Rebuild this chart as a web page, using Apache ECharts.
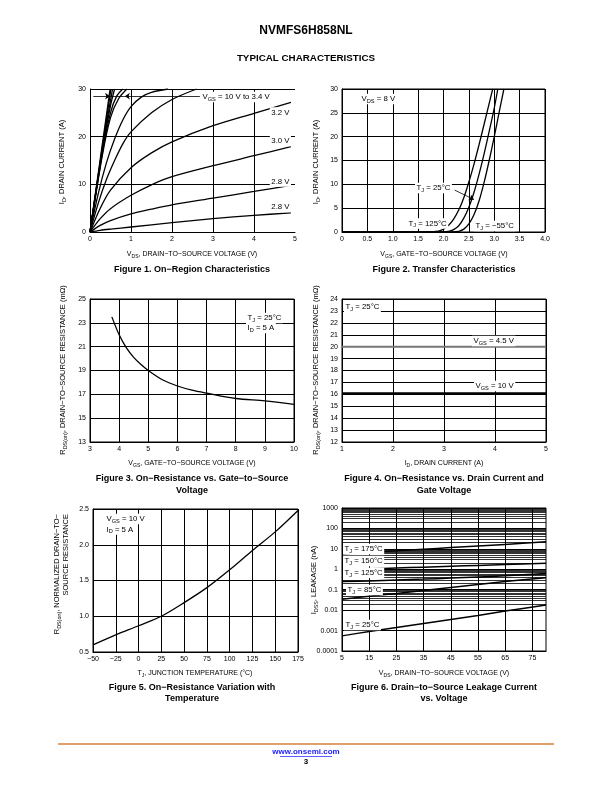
<!DOCTYPE html>
<html><head><meta charset="utf-8">
<script src="https://cdn.jsdelivr.net/npm/echarts@6/dist/echarts.min.js"></script>
<style>html,body{margin:0;padding:0;background:#fff}#c{width:612px;height:792px}</style>
</head><body><div id="c"></div>
<script>
// ---------- Figure 1: On-Region Characteristics (VDS, ID) ----------
const fig1_vgs10 = [[0,0],[0.49,30]];
const fig1_vgs6  = [[0,0],[0.51,30]];
const fig1_vgs45 = [[0,0],[0.3,17.5],[0.55,30]];
const fig1_vgs40 = [[0,0],[0.3,17],[0.5,26.5],[0.6,30]];
const fig1_vgs38 = [[0,0],[0.3,16.5],[0.5,25],[0.65,28.5],[0.8,30]];
const fig1_vgs36 = [[0,0],[0.3,16],[0.5,24],[0.7,28],[0.9,30]];
const fig1_vgs35 = [[0,0],[0.2,8],[0.4,14.5],[0.6,19.5],[0.8,23.5],[1,26.3],[1.25,28.3],[1.5,29.3],[1.9,30]];
const fig1_vgs34 = [[0,0],[0.2,6],[0.4,11],[0.6,15],[0.8,18.5],[1,21],[1.5,25],[2,27.8],[2.6,30]];
const fig1_vgs32 = [[0,0],[0.25,5],[0.5,8.8],[1,13.5],[1.5,16.6],[2,18.9],[3,22.3],[4,24.9],[4.9,27.2]];
const fig1_vgs30 = [[0,0],[0.25,2.8],[0.5,4.9],[1,7.7],[1.5,9.9],[2,11.6],[3,13.9],[4,16],[4.9,17.9]];
const fig1_vgs28a = [[0,0],[0.25,1.4],[0.5,2.4],[1,3.8],[1.5,4.8],[2,5.7],[3,7.1],[4,8.5],[4.9,9.8]];
const fig1_vgs28b = [[0,0],[0.25,0.35],[0.5,0.6],[1,1.05],[2,1.97],[3,2.8],[4,3.5],[4.9,4.0]];
const fig1_xLabels = [0,1,2,3,4,5];

// ---------- Figure 2: Transfer Characteristics (VGS, ID) ----------
const fig2_tj125 = [[0,0],[1.6,0],[1.9,0.2],[2.0,0.6],[2.1,1.4],[2.2,2.7],[2.3,4.6],[2.4,7.2],[2.5,10.5],[2.6,14.2],[2.7,18.3],[2.8,22.6],[2.9,27],[2.97,30]];
const fig2_tj25  = [[0,0],[1.8,0],[2.1,0.15],[2.2,0.5],[2.3,1.3],[2.4,2.9],[2.5,5.2],[2.6,8.3],[2.7,12.1],[2.8,16.4],[2.9,21.1],[3.0,26],[3.07,30]];
const fig2_tjm55 = [[0,0],[2.0,0],[2.3,0.15],[2.4,0.6],[2.5,1.7],[2.6,3.6],[2.7,6.5],[2.8,10.4],[2.9,15],[3.0,20],[3.1,25.3],[3.19,30]];

// ---------- Figure 3: RDS(on) vs VGS ----------
const fig3_vgs = [3.75,4,4.25,4.5,4.75,5,5.5,6,6.5,7,8,9,10];
const fig3_rds = [23.5,22,20.9,20.1,19.5,19,18.2,17.7,17.35,17.1,16.65,16.45,16.15];
const fig3_yLabels = [13,15,17,19,21,23,25];

// ---------- Figure 4: RDS(on) vs ID ----------
const fig4_id = [1,2,3,4,5];
const fig4_rds45 = [20.0,20.0,20.0,20.0,20.0];
const fig4_rds10 = [16.1,16.1,16.1,16.1,16.1];

// ---------- Figure 5: Normalized RDS(on) vs TJ ----------
const fig5_tj  = [-50,-25,0,25,50,75,100,125,150,175];
const fig5_rds = [0.6,0.74,0.867,1.0,1.19,1.40,1.65,1.92,2.18,2.48];

// ---------- Figure 6: IDSS leakage vs VDS ----------
const fig6_vds = [5,15,25,35,45,55,65,80];
const fig6_tj175 = [5.8,6.8,8,9.6,11.5,13.8,16.5,22];
const fig6_tj150 = [0.95,1.05,1.15,1.27,1.4,1.55,1.7,1.95];
const fig6_tj125 = [0.25,0.27,0.3,0.33,0.37,0.42,0.48,0.62];
const fig6_tj85  = [0.034,0.048,0.066,0.092,0.13,0.18,0.25,0.39];
const fig6_tj25  = [0.00055,0.0009,0.0014,0.0022,0.0035,0.0055,0.009,0.018];
const fig6_xLabels = [5,15,25,35,45,55,65,75];

// ---------- helpers ----------
const FONT = 'Liberation Sans';
const AN = 7.8;   // annotation font size
const XT = 7;     // x-axis title size
const YT = 7.5;   // y-axis title size
const CAP = 9;    // caption size
const minorLog = [];
for (let d = -4; d <= 2; d++) for (let k = 2; k <= 9; k++) minorLog.push(+(k * Math.pow(10, d)).toPrecision(2));

function grid(l, t, w, h, border) {
  return {left:l, top:t, width:w, height:h, show:border, borderColor:'#000', borderWidth:1, containLabel:false};
}
function axis(gi, o) {
  return Object.assign({
    gridIndex: gi, type: 'value',
    axisLine: {show:true, onZero:false, lineStyle:{color:'#000', width:1}},
    axisTick: {show:false},
    splitLine: {show:true, lineStyle:{color:'#000', width:1}},
    axisLabel: {fontSize:7, color:'#000', fontFamily:FONT, margin:4},
  }, o);
}
function curve(gi, data, o = {}) {
  return {type:'line', xAxisIndex:gi, yAxisIndex:gi, data, symbol:'none', showSymbol:false,
    smooth: o.smooth === undefined ? 0.3 : o.smooth, silent:true, z:3,
    lineStyle:{color:o.color || '#000', width:o.width || 1.3}};
}
function rich(size) {
  return { sub: {fontSize: size * 0.72, fontFamily: FONT, verticalAlign: 'bottom', lineHeight: size * 1.35, fill: '#000'} };
}
function txt(x, y, text, o = {}) {
  const size = o.size || AN;
  return {type:'text', x, y, rotation:o.rot || 0, z:100, silent:true,
    style:{text, fill:o.color || '#000', fontSize:size, fontFamily:FONT, fontWeight:o.bold ? 'bold' : 'normal',
      align:o.align || 'center', verticalAlign:'middle', lineHeight:size * 1.35,
      backgroundColor:o.bg ? '#fff' : null, padding:o.bg ? [0,1.5,0,1.5] : 0, rich:rich(size)}};
}
const R = Math.PI / 2;

const option = {
  animation: false,
  backgroundColor: '#fff',
  grid: [
    grid(90, 89, 205, 143, false),
    grid(342, 89, 203, 143, true),
    grid(90, 299, 204, 143, true),
    grid(342, 299, 204, 143, true),
    grid(93, 509, 205, 143, true),
    grid(342, 508, 204, 143, true)
  ],
  xAxis: [
    axis(0, {min:0, max:5, axisLabel:{fontSize:7, color:'#000', fontFamily:FONT, margin:4, customValues:fig1_xLabels}, axisTick:{show:false, customValues:[0,1,2,3,4]}}),
    axis(1, {min:0, max:4, interval:0.5, axisLabel:{fontSize:7, color:'#000', fontFamily:FONT, margin:4, formatter:v => v === 0 ? '0' : v.toFixed(1)}}),
    axis(2, {min:3, max:10, interval:1}),
    axis(3, {min:1, max:5, interval:1}),
    axis(4, {min:-50, max:175, interval:25, axisLabel:{fontSize:7, color:'#000', fontFamily:FONT, margin:4, formatter:v => String(v).replace('-', '\u2212')}}),
    axis(5, {min:5, max:80, axisLabel:{fontSize:7, color:'#000', fontFamily:FONT, margin:4, customValues:fig6_xLabels}, axisTick:{show:false, customValues:fig6_xLabels}})
  ],
  yAxis: [
    axis(0, {min:0, max:30, interval:10}),
    axis(1, {min:0, max:30, interval:5}),
    axis(2, {min:13, max:25, axisLabel:{fontSize:7, color:'#000', fontFamily:FONT, margin:4, customValues:fig3_yLabels}, axisTick:{show:false, customValues:fig3_yLabels}}),
    axis(3, {min:12, max:24, interval:1}),
    axis(4, {min:0.5, max:2.5, interval:0.5, axisLabel:{fontSize:7, color:'#000', fontFamily:FONT, margin:4, formatter:v => v.toFixed(1)}}),
    axis(5, {type:'log', logBase:10, min:0.0001, max:1000, splitNumber:7, axisLabel:{fontSize:7, color:'#000', fontFamily:FONT, margin:4, formatter:v => String(+(+v).toPrecision(1))}})
  ],
  series: [
    // fig 1
    curve(0, fig1_vgs10, {smooth:false}), curve(0, fig1_vgs6, {smooth:false}),
    curve(0, fig1_vgs45), curve(0, fig1_vgs40), curve(0, fig1_vgs38), curve(0, fig1_vgs36),
    curve(0, fig1_vgs35), curve(0, fig1_vgs34), curve(0, fig1_vgs32), curve(0, fig1_vgs30),
    curve(0, fig1_vgs28a), curve(0, fig1_vgs28b),
    {type:'line', xAxisIndex:0, yAxisIndex:0, data:[], silent:true, z:4,
      markLine:{silent:true, symbol:['none','arrow'], symbolSize:5, label:{show:false},
        lineStyle:{color:'#000', width:0.8, type:'solid'},
        data:[
          [{coord:[0.08,28.5]},{coord:[0.49,28.5]}],
          [{coord:[2.68,28.5]},{coord:[0.85,28.5]}],
          [{coord:[0.49,28.5], symbol:'none'},{coord:[0.85,28.5], symbol:'none'}]
        ]}},
    // fig 2
    curve(1, fig2_tj125), curve(1, fig2_tj25), curve(1, fig2_tjm55),
    {type:'line', xAxisIndex:1, yAxisIndex:1, data:[], silent:true, z:4,
      markLine:{silent:true, symbol:['none','arrow'], symbolSize:5, label:{show:false},
        lineStyle:{color:'#000', width:0.8, type:'solid'},
        data:[[{coord:[2.22,8.8]},{coord:[2.6,6.8]}]]}},
    // fig 3
    curve(2, fig3_vgs.map((v, i) => [v, fig3_rds[i]])),
    // fig 4
    curve(3, fig4_id.map((v, i) => [v, fig4_rds45[i]]), {color:'#777', width:2, smooth:false}),
    curve(3, fig4_id.map((v, i) => [v, fig4_rds10[i]]), {width:1.6, smooth:false}),
    // fig 5
    curve(4, fig5_tj.map((v, i) => [v, fig5_rds[i]])),
    // fig 6 minor log grid
    {type:'line', xAxisIndex:5, yAxisIndex:5, data:fig6_vds.map((v, i) => [v, fig6_tj25[i]]), silent:true, z:1,
      symbol:'none', lineStyle:{opacity:0},
      markLine:{silent:true, symbol:'none', label:{show:false}, lineStyle:{color:'#000', width:0.8, type:'solid'},
        data:minorLog.map(v => ({yAxis:v}))}},
    curve(5, fig6_vds.map((v, i) => [v, fig6_tj175[i]]), {width:1.5}),
    curve(5, fig6_vds.map((v, i) => [v, fig6_tj150[i]]), {width:1.5}),
    curve(5, fig6_vds.map((v, i) => [v, fig6_tj125[i]]), {width:1.5}),
    curve(5, fig6_vds.map((v, i) => [v, fig6_tj85[i]]), {width:1.5}),
    curve(5, fig6_vds.map((v, i) => [v, fig6_tj25[i]]), {width:1.5})
  ],
  graphic: [
    // header
    txt(306, 31, 'NVMFS6H858NL', {size:12, bold:true}),
    txt(306, 58, 'TYPICAL CHARACTERISTICS', {size:9.8, bold:true}),
    // fig 1
    txt(62, 162, 'I{sub|D}, DRAIN CURRENT (A)', {rot:R, size:YT}),
    txt(192, 254, 'V{sub|DS}, DRAIN\u2212TO\u2212SOURCE VOLTAGE (V)', {size:XT}),
    txt(192, 270, 'Figure 1. On\u2212Region Characteristics', {size:CAP, bold:true}),
    txt(201, 97, 'V{sub|GS} = 10 V to 3.4 V', {align:'left', bg:true}),
    txt(291, 112.5, '3.2 V', {align:'right', bg:true}),
    txt(291, 141, '3.0 V', {align:'right', bg:true}),
    txt(291, 181.5, '2.8 V', {align:'right', bg:true}),
    txt(291, 207, '2.8 V', {align:'right', bg:true}),
    // fig 2
    txt(316, 162, 'I{sub|D}, DRAIN CURRENT (A)', {rot:R, size:YT}),
    txt(444, 254, 'V{sub|GS}, GATE\u2212TO\u2212SOURCE VOLTAGE (V)', {size:XT}),
    txt(444, 270, 'Figure 2. Transfer Characteristics', {size:CAP, bold:true}),
    txt(360, 99, 'V{sub|DS} = 8 V', {align:'left', bg:true}),
    txt(415, 188, 'T{sub|J} = 25\u00b0C', {align:'left', bg:true}),
    txt(407, 223.5, 'T{sub|J} = 125\u00b0C', {align:'left', bg:true}),
    txt(474, 226, 'T{sub|J} = \u221255\u00b0C', {align:'left', bg:true}),
    // fig 3
    txt(63, 370, 'R{sub|DS(on)}, DRAIN\u2212TO\u2212SOURCE RESISTANCE (m\u03a9)', {rot:R, size:YT}),
    txt(192, 463, 'V{sub|GS}, GATE\u2212TO\u2212SOURCE VOLTAGE (V)', {size:XT}),
    txt(192, 479, 'Figure 3. On\u2212Resistance vs. Gate\u2212to\u2212Source', {size:CAP, bold:true}),
    txt(192, 491, 'Voltage', {size:CAP, bold:true}),
    txt(246, 318, 'T{sub|J} = 25\u00b0C', {align:'left', bg:true}),
    txt(246, 328, 'I{sub|D} = 5 A', {align:'left', bg:true}),
    // fig 4
    txt(316, 370, 'R{sub|DS(on)}, DRAIN\u2212TO\u2212SOURCE RESISTANCE (m\u03a9)', {rot:R, size:YT}),
    txt(444, 463, 'I{sub|D}, DRAIN CURRENT (A)', {size:XT}),
    txt(444, 479, 'Figure 4. On\u2212Resistance vs. Drain Current and', {size:CAP, bold:true}),
    txt(444, 491, 'Gate Voltage', {size:CAP, bold:true}),
    txt(344, 307, 'T{sub|J} = 25\u00b0C', {align:'left', bg:true}),
    txt(472, 341, 'V{sub|GS} = 4.5 V', {align:'left', bg:true}),
    txt(474, 386, 'V{sub|GS} = 10 V', {align:'left', bg:true}),
    // fig 5
    txt(57, 514, 'R{sub|DS(on)}, NORMALIZED DRAIN\u2212TO\u2212', {rot:R, size:YT, align:'right'}),
    txt(66, 514, 'SOURCE RESISTANCE', {rot:R, size:YT, align:'right'}),
    txt(195, 673, 'T{sub|J}, JUNCTION TEMPERATURE (\u00b0C)', {size:XT}),
    txt(192, 688, 'Figure 5. On\u2212Resistance Variation with', {size:CAP, bold:true}),
    txt(192, 699, 'Temperature', {size:CAP, bold:true}),
    txt(105, 519, 'V{sub|GS} = 10 V', {align:'left', bg:true}),
    txt(105, 529.5, 'I{sub|D} = 5 A', {align:'left', bg:true}),
    // fig 6
    txt(314, 580, 'I{sub|DSS}, LEAKAGE (nA)', {rot:R, size:YT}),
    txt(444, 673, 'V{sub|DS}, DRAIN\u2212TO\u2212SOURCE VOLTAGE (V)', {size:XT}),
    txt(444, 688, 'Figure 6. Drain\u2212to\u2212Source Leakage Current', {size:CAP, bold:true}),
    txt(444, 699, 'vs. Voltage', {size:CAP, bold:true}),
    txt(343, 549, 'T{sub|J} = 175\u00b0C', {align:'left', bg:true}),
    txt(343, 561, 'T{sub|J} = 150\u00b0C', {align:'left', bg:true}),
    txt(343, 573, 'T{sub|J} = 125\u00b0C', {align:'left', bg:true}),
    txt(346, 590, 'T{sub|J} = 85\u00b0C', {align:'left', bg:true}),
    txt(344, 625, 'T{sub|J} = 25\u00b0C', {align:'left', bg:true}),
    // footer
    {type:'line', z:100, silent:true, shape:{x1:58, y1:744, x2:554, y2:744}, style:{stroke:'#D4813A', lineWidth:1.5}},
    txt(306, 752, 'www.onsemi.com', {size:8, bold:true, color:'#1a1aff'}),
    {type:'line', z:100, silent:true, shape:{x1:280, y1:756.5, x2:332, y2:756.5}, style:{stroke:'#1a1aff', lineWidth:0.7}},
    txt(306, 762, '3', {size:8, bold:true})
  ]
};
const chart = echarts.init(document.getElementById('c'), null, {renderer:'canvas'});
chart.setOption(option);
</script></body></html>
